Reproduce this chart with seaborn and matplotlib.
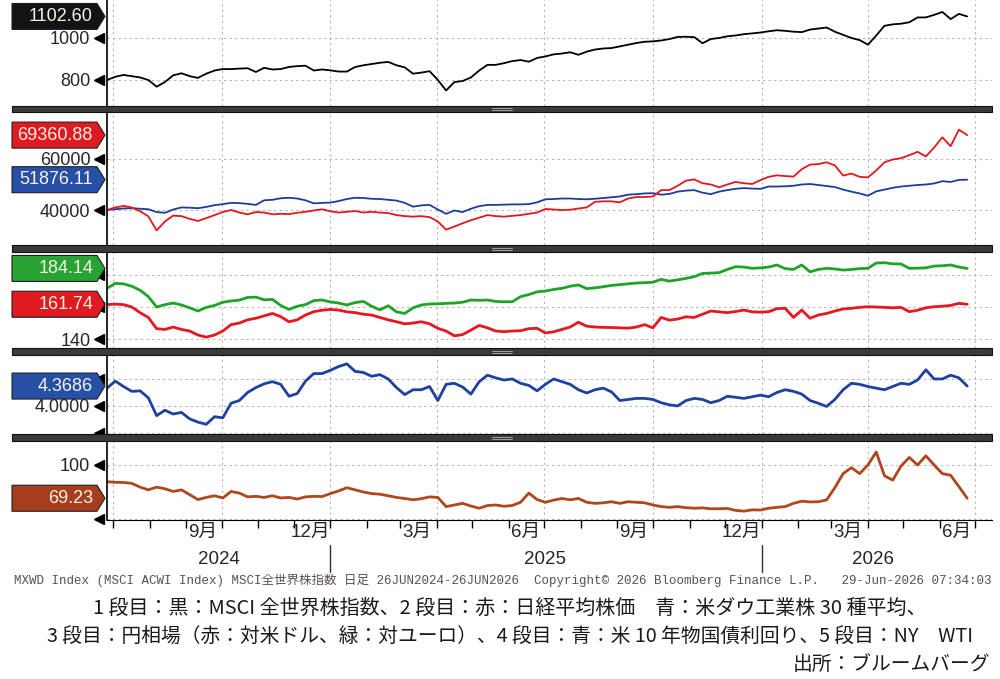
import numpy as np
import pandas as pd
import matplotlib
matplotlib.use('Agg')
import matplotlib.pyplot as plt
import matplotlib.dates as mdates
import matplotlib.transforms as mtransforms
from matplotlib.patches import Polygon, Rectangle
from matplotlib.lines import Line2D
import seaborn as sns

# weekly closes, 26 Jun 2024 .. 24 Jun 2026 (last point = latest close)
dates = pd.date_range('2024-06-26', periods=105, freq='7D')

msci = [800, 815, 824, 818, 812, 800, 768, 790, 822, 832,
        818, 810, 830, 845, 852, 852, 854, 856, 838, 858,
        850, 852, 862, 866, 868, 845, 850, 846, 840, 840,
        862, 870, 876, 882, 886, 870, 860, 830, 835, 842,
        800, 750, 790, 795, 812, 845, 872, 872, 880, 890,
        895, 887, 905, 912, 922, 926, 932, 920, 935, 945,
        950, 952, 960, 968, 976, 982, 984, 988, 995, 1005,
        1006, 1004, 975, 995, 1000, 1008, 1012, 1018, 1022, 1026,
        1032, 1037, 1034, 1030, 1028, 1040, 1045, 1050, 1030, 1015,
        1000, 990, 968, 1012, 1058, 1065, 1068, 1075, 1098, 1098,
        1110, 1124, 1090, 1115, 1102.60]

nikkei = [40000, 41000, 41600, 41000, 39500, 37500, 32000, 35500, 37800, 37600,
          36500, 35700, 36800, 38000, 39200, 40000, 39000, 38300, 39200, 39000,
          38300, 38500, 38400, 38900, 39300, 39800, 40300, 39500, 39000, 39300,
          39600, 39000, 39300, 39000, 38800, 38000, 37600, 37400, 37600, 37200,
          35500, 32300, 33500, 34800, 36000, 37000, 38000, 37600, 37400, 37700,
          38000, 38500, 39000, 40400, 40200, 40000, 40100, 40600, 41000, 43200,
          43400, 43400, 43000, 44500, 45100, 45100, 45300, 47800, 47800, 49500,
          51500, 52000, 50500, 50000, 48900, 50000, 51000, 50500, 50200, 51700,
          53000, 53600, 53300, 53100, 56000, 57800, 58000, 58700, 57500, 53500,
          54300, 53000, 52800, 55500, 58700, 59800, 60300, 61500, 62800, 61000,
          64500, 68500, 65000, 71500, 69360.88]

dow = [40000, 40300, 40600, 40700, 40500, 40300, 39200, 38900, 40200, 41000,
       40900, 40700, 41200, 41900, 42300, 42800, 42700, 42400, 42000, 43800,
       44000, 44600, 44800, 44500, 43800, 42600, 42800, 42900, 43500, 44300,
       44800, 44700, 44400, 44300, 44000, 43700, 42800, 41300, 41800, 42000,
       40200, 38500, 39800, 39200, 40500, 41500, 42000, 42000, 42100, 42200,
       42200, 42300, 43000, 44200, 44300, 44500, 44500, 44300, 44200, 44400,
       44700, 45000, 45300, 46000, 46200, 46500, 46600, 46000, 46300, 47200,
       47600, 47800, 46800, 46200, 47200, 47800, 48300, 48600, 48400, 48300,
       49200, 49200, 49300, 49500, 50000, 50200, 49800, 49400, 49000, 48000,
       47200, 46500, 45600, 47300, 48000, 48700, 49200, 49500, 49800, 50000,
       50400, 51300, 51000, 51800, 51876.11]

eurjpy = [171.7, 174.8, 174.5, 173.0, 170.5, 166.5, 160.0, 161.5, 162.5, 161.3,
          159.5, 157.5, 159.8, 161.0, 163.0, 163.8, 164.3, 166.0, 166.2, 164.5,
          164.8, 161.0, 158.5, 160.5, 161.5, 164.0, 164.4, 163.2, 162.5, 161.3,
          162.8, 163.5, 160.5, 158.2, 160.8, 157.0, 156.0, 159.5, 161.3, 161.9,
          162.0, 162.3, 162.5, 163.0, 164.4, 164.2, 164.4, 163.5, 163.3, 163.3,
          166.5, 167.8, 169.5, 170.0, 171.0, 171.7, 173.0, 173.8, 171.5, 172.0,
          172.7, 173.5, 174.0, 174.5, 175.0, 175.2, 175.5, 177.3, 176.2, 177.0,
          177.9, 179.0, 181.0, 181.2, 181.5, 183.5, 185.2, 185.0, 184.2, 184.5,
          185.0, 186.3, 184.0, 183.5, 186.3, 182.0, 183.5, 184.2, 183.8, 183.1,
          183.5, 184.0, 184.2, 187.5, 187.7, 187.0, 186.9, 184.2, 184.3, 184.5,
          185.6, 185.8, 186.3, 185.0, 184.14]

usdjpy = [161.5, 161.8, 161.5, 160.0, 156.5, 153.5, 146.5, 146.0, 147.5, 146.0,
          145.0, 142.5, 141.2, 142.5, 145.0, 149.0, 150.0, 152.0, 153.0, 154.5,
          156.0, 154.0, 150.8, 152.0, 155.0, 157.1, 158.0, 158.5, 158.1, 157.0,
          156.5, 155.5, 155.0, 153.5, 152.0, 150.8, 149.5, 150.0, 150.8, 149.5,
          146.7, 145.0, 142.0, 142.8, 145.6, 148.5, 147.0, 145.0, 144.6, 145.0,
          145.2, 146.5, 146.7, 143.8, 144.5, 146.0, 147.5, 150.5, 148.0, 147.5,
          147.3, 147.2, 147.0, 146.8, 147.5, 149.0, 147.0, 153.5, 151.8, 152.5,
          153.9, 153.5, 155.5, 157.5, 157.0, 156.5, 157.2, 158.1, 157.0, 156.8,
          157.1, 159.0, 159.2, 153.5, 158.1, 153.0, 155.0, 156.0, 157.5, 158.8,
          159.2, 159.8, 160.2, 160.0, 159.8, 159.5, 159.8, 157.1, 158.0, 159.5,
          160.2, 160.5, 161.0, 162.3, 161.74]

ust10y = [4.33, 4.46, 4.36, 4.27, 4.28, 4.15, 3.82, 3.92, 3.85, 3.88,
          3.76, 3.70, 3.66, 3.80, 3.78, 4.05, 4.10, 4.25, 4.34, 4.41,
          4.45, 4.40, 4.18, 4.23, 4.46, 4.60, 4.60, 4.66, 4.73, 4.78,
          4.64, 4.62, 4.55, 4.58, 4.50, 4.34, 4.21, 4.30, 4.30, 4.36,
          4.10, 4.40, 4.42, 4.35, 4.22, 4.45, 4.57, 4.52, 4.48, 4.50,
          4.42, 4.38, 4.28, 4.40, 4.50, 4.45, 4.40, 4.30, 4.24, 4.30,
          4.33, 4.26, 4.10, 4.12, 4.14, 4.14, 4.12, 4.06, 4.02, 4.00,
          4.10, 4.14, 4.12, 4.06, 4.10, 4.18, 4.16, 4.14, 4.17, 4.20,
          4.17, 4.25, 4.30, 4.27, 4.22, 4.10, 4.05, 3.99, 4.12, 4.30,
          4.42, 4.40, 4.36, 4.33, 4.30, 4.36, 4.42, 4.40, 4.48, 4.67,
          4.50, 4.50, 4.57, 4.52, 4.3686]

wti = [84.5, 84.0, 83.8, 83.0, 79.5, 77.0, 79.5, 78.0, 75.5, 77.0,
       72.5, 68.0, 70.0, 71.5, 69.5, 75.5, 74.0, 70.5, 71.0, 70.0,
       71.5, 69.5, 70.0, 68.5, 70.5, 71.0, 70.8, 73.5, 76.0, 79.0,
       77.0, 75.0, 73.5, 73.0, 71.5, 70.0, 69.0, 67.8, 68.8, 70.5,
       70.0, 61.5, 63.0, 64.5, 62.0, 60.0, 62.5, 63.0, 61.8, 62.5,
       65.5, 74.0, 68.0, 65.5, 67.5, 69.0, 67.8, 69.0, 65.5, 64.5,
       65.0, 66.0, 64.5, 66.0, 65.5, 65.0, 63.0, 61.5, 60.8, 61.5,
       60.5, 60.0, 60.3, 59.5, 59.5, 59.8, 58.0, 57.3, 58.5, 58.3,
       60.0, 60.8, 61.5, 64.5, 66.5, 65.8, 66.0, 67.6, 79.0, 92.0,
       97.5, 92.0, 100.0, 112.0, 90.0, 86.0, 99.0, 107.0, 100.0, 108.5,
       100.0, 92.0, 90.5, 80.0, 69.23]

month_labels = ['9月', '12月', '3月', '6月', '9月', '12月', '3月', '6月']
month_label_dates = ['2024-09-15', '2024-12-15', '2025-03-15', '2025-06-15',
                     '2025-09-15', '2025-12-15', '2026-03-15', '2026-06-15']
years = ['2024', '2025', '2026']
year_label_dates = ['2024-09-29', '2025-07-02', '2026-04-05']
year_breaks = ['2025-01-01', '2026-01-01']

sns.set_style('white')
plt.rcParams['font.family'] = ['Liberation Sans', 'Noto Sans CJK JP']

W, H = 1000, 679
fig = plt.figure(figsize=(W / 100, H / 100), dpi=100)

RED = '#e3171d'
BLUE = '#1c3d9b'
panels = [
    dict(top=0, bottom=106, ylim=(676, 1181), major=[800, 1000], labels=['800', '1000'],
         minor=[700, 900, 1100], lines=[(msci, '#000000', 1.3)],
         tags=[(msci[-1], '1102.60', '#131313')]),
    dict(top=112, bottom=245, ylim=(26280, 78420), major=[40000, 60000], labels=['40000', '60000'],
         minor=[30000, 50000, 70000], lines=[(dow, BLUE, 1.3), (nikkei, RED, 1.3)],
         tags=[(nikkei[-1], '69360.88', '#e01a21'), (dow[-1], '51876.11', '#2550a6')]),
    dict(top=252, bottom=348, ylim=(134.4, 194.4), major=[140, 160, 180], labels=['140', '', ''],
         minor=[150, 170, 190], lines=[(eurjpy, '#1ea329', 2.0), (usdjpy, '#e8161e', 2.0)],
         tags=[(eurjpy[-1], '184.14', '#27a334'), (usdjpy[-1], '161.74', '#e01a21')]),
    dict(top=355, bottom=434, ylim=(3.48, 4.944), major=[3.5, 4.0, 4.5], labels=['', '4.0000', ''],
         minor=[3.75, 4.25, 4.75], lines=[(ust10y, '#1e40a0', 2.0)],
         tags=[(ust10y[-1], '4.3686', '#2550a6')]),
    dict(top=441, bottom=520, ylim=(49.1, 122.2), major=[50, 100], labels=['', '100'],
         minor=[75], lines=[(wti, '#b0461c', 2.0)],
         tags=[(wti[-1], '69.23', '#a63e1e')]),
]

xlim = (pd.Timestamp('2024-06-26'), pd.Timestamp('2026-07-15'))
quarters = pd.date_range('2024-07-01', '2026-07-01', freq='QS')
month_starts = pd.date_range('2024-07-01', '2026-07-01', freq='MS')

axes = []
for p in panels:
    ax = fig.add_axes([107 / W, 1 - p['bottom'] / H, 885 / W, (p['bottom'] - p['top']) / H])
    for vals, col, lw in p['lines']:
        sns.lineplot(x=dates, y=vals, ax=ax, color=col, linewidth=lw, estimator=None)
    ax.set(xlabel='', ylabel='')
    ax.set_xlim(*xlim)
    ax.set_ylim(*p['ylim'])
    ax.set_yticks(p['major'], labels=p['labels'])
    ax.set_yticks(p['minor'], minor=True)
    ax.tick_params(axis='y', which='major', length=0, pad=12, labelsize=13)
    ax.tick_params(axis='y', which='minor', length=5, width=1, direction='out', color='black')
    ax.yaxis.grid(True, which='major', linestyle=(0, (2, 3)), color='#b5b5b5', linewidth=0.8)
    for q in quarters:
        ax.axvline(q, linestyle=(0, (2, 3)), color='#b5b5b5', linewidth=0.8, zorder=0)
    blend = mtransforms.blended_transform_factory(ax.transAxes, ax.transData)
    for v in p['major']:
        ax.plot([-0.0085], [v], marker='<', ms=6.5, color='black', transform=blend, clip_on=False)
    for s in ['top', 'right', 'bottom']:
        ax.spines[s].set_visible(False)
    ax.spines['left'].set_color('black')
    ax.spines['left'].set_linewidth(1.2)
    ax.tick_params(axis='x', which='both', bottom=False, labelbottom=False)
    axes.append(ax)

# time axis on the bottom panel
ax5 = axes[-1]
ax5.spines['bottom'].set_visible(True)
ax5.spines['bottom'].set_color('black')
ax5.set_xticks(month_starts, labels=[''] * len(month_starts))
ax5.set_xticks(pd.to_datetime(month_label_dates), labels=month_labels, minor=True)
ax5.tick_params(axis='x', which='major', bottom=True, length=6, width=1, direction='out', color='black')
ax5.tick_params(axis='x', which='minor', bottom=True, labelbottom=True, length=0, pad=3, labelsize=13.5)
ax5.set_xlim(*xlim)

fig.canvas.draw()

for yb in year_breaks:
    x = ax5.transData.transform((mdates.date2num(pd.Timestamp(yb)), 0))[0]
    fig.add_artist(Line2D([x / W, x / W], [1 - 545 / H, 1 - 572 / H], color='#333333', lw=1,
                          transform=fig.transFigure))
for yr, d in zip(years, year_label_dates):
    x = ax5.transData.transform((mdates.date2num(pd.Timestamp(d)), 0))[0]
    fig.text(x / W, 1 - 560 / H, yr, ha='center', va='center', fontsize=13.5)

# value tags on the left
for ax, p in zip(axes, panels):
    for v, txt, col in p['tags']:
        yc = ax.transData.transform((0, v))[1] / H
        h = 13 / H
        verts = [(12 / W, yc - h), (97 / W, yc - h), (105 / W, yc), (97 / W, yc + h), (12 / W, yc + h)]
        fig.add_artist(Polygon(verts, closed=True, fc=col, ec='#202020', lw=0.8,
                               transform=fig.transFigure, zorder=5))
        fig.text(93 / W, yc, txt, ha='right', va='center', color='#f7f2e4', fontsize=13, zorder=6)

# panel separators
for top, bot in [(106, 112), (245, 252), (348, 355), (434, 441)]:
    fig.add_artist(Rectangle((12 / W, 1 - bot / H), 980 / W, (bot - top) / H, fc='#3a3a3a',
                             ec='#111111', lw=0.8, transform=fig.transFigure, zorder=4))
    ym = 1 - (top + bot) / 2 / H
    for dy in (-1, 1):
        fig.add_artist(Line2D([492 / W, 512 / W], [ym + dy / H, ym + dy / H], color='#b0b0b0',
                              lw=0.6, transform=fig.transFigure, zorder=5))

# footer
fig.text(14 / W, 1 - 580 / H,
         'MXWD Index (MSCI ACWI Index) MSCI全世界株指数 日足 26JUN2024-26JUN2026  '
         'Copyright© 2026 Bloomberg Finance L.P.   29-Jun-2026 07:34:03',
         family=['Liberation Mono', 'Noto Sans CJK JP'], fontsize=9.0, color='#5a5048',
         ha='left', va='center')
fig.text(0.51, 1 - 608 / H,
         '1 段目：黒：MSCI 全世界株指数、2 段目：赤：日経平均株価　青：米ダウ工業株 30 種平均、',
         family=['Noto Sans CJK JP'], fontsize=14.4, color='#1a1a1a', ha='center', va='center')
fig.text(0.51, 1 - 637 / H,
         '3 段目：円相場（赤：対米ドル、緑：対ユーロ）、4 段目：青：米 10 年物国債利回り、5 段目：NY　WTI',
         family=['Noto Sans CJK JP'], fontsize=14.2, color='#1a1a1a', ha='center', va='center')
fig.text(990 / W, 1 - 665 / H, '出所：ブルームバーグ',
         family=['Noto Sans CJK JP'], fontsize=14.2, color='#1a1a1a', ha='right', va='center')

fig.savefig('out.png', dpi=100)
